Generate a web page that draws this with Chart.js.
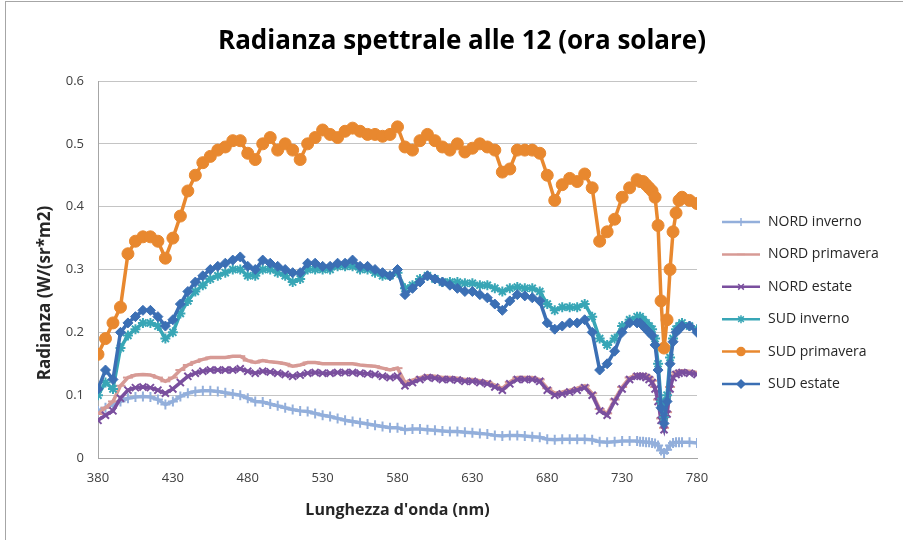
<!DOCTYPE html>
<html>
<head>
<meta charset="utf-8">
<script src="https://cdn.jsdelivr.net/npm/chart.js@4.4.1/dist/chart.umd.min.js"></script>
<style>
  html, body { margin: 0; padding: 0; background: #fff; overflow: hidden; }
  #frame { position: absolute; left: 5px; top: 1px; width: 910px; height: 560px; border: 1px solid #a6a6a6; pointer-events: none; }
  canvas { position: absolute; left: 0; top: 0; }
</style>
</head>
<body>
<canvas id="radiance-chart" width="903" height="540"></canvas>
<div id="frame"></div>
<script>
// wavelengths (nm), denser around the oxygen dip
const wavelengths = [380,385,390,395,400,405,410,415,420,425,
                     430,435,440,445,450,455,460,465,470,475,
                     480,485,490,495,500,505,510,515,520,525,
                     530,535,540,545,550,555,560,565,570,575,
                     580,585,590,595,600,605,610,615,620,625,
                     630,635,640,645,650,655,660,665,670,675,
                     680,685,690,695,700,705,710,715,720,725,
                     730,735,740,742,744,746,748,750,752,754,
                     756,758,760,762,764,766,768,770,775,780];

const xTicks = [380,430,480,530,580,630,680,730,780];

const nordInverno = [0.075,0.08,0.085,0.09,0.095,0.097,0.098,0.097,0.093,0.085,
                     0.09,0.098,0.103,0.106,0.107,0.107,0.106,0.104,0.102,0.10,
                     0.095,0.09,0.089,0.086,0.083,0.08,0.077,0.075,0.074,0.071,
                     0.068,0.066,0.063,0.06,0.058,0.056,0.054,0.052,0.05,0.048,
                     0.048,0.045,0.046,0.046,0.045,0.044,0.043,0.042,0.042,0.041,
                     0.04,0.039,0.038,0.036,0.035,0.036,0.036,0.035,0.034,0.033,
                     0.03,0.029,0.03,0.03,0.03,0.03,0.029,0.026,0.025,0.026,
                     0.027,0.027,0.027,0.026,0.026,0.025,0.025,0.024,0.023,0.02,
                     0.012,0.008,0.013,0.02,0.024,0.025,0.025,0.025,0.025,0.024];

const nordPrimavera = [0.07,0.08,0.09,0.115,0.128,0.132,0.133,0.132,0.128,0.122,
                       0.128,0.14,0.148,0.153,0.157,0.16,0.16,0.16,0.162,0.162,
                       0.155,0.152,0.155,0.153,0.152,0.15,0.146,0.148,0.152,0.152,
                       0.15,0.15,0.15,0.15,0.15,0.148,0.147,0.146,0.143,0.14,
                       0.143,0.12,0.124,0.128,0.131,0.13,0.128,0.128,0.127,0.125,
                       0.125,0.123,0.121,0.116,0.111,0.121,0.128,0.128,0.128,0.125,
                       0.111,0.103,0.105,0.108,0.111,0.115,0.103,0.078,0.071,0.093,
                       0.113,0.128,0.133,0.133,0.133,0.131,0.128,0.123,0.113,0.093,
                       0.063,0.048,0.073,0.113,0.131,0.136,0.138,0.139,0.138,0.136];

const nordEstate = [0.06,0.068,0.075,0.095,0.108,0.112,0.113,0.112,0.108,0.103,
                    0.11,0.12,0.13,0.135,0.138,0.14,0.14,0.14,0.14,0.142,
                    0.138,0.135,0.138,0.137,0.135,0.133,0.13,0.132,0.135,0.136,
                    0.135,0.135,0.136,0.136,0.136,0.135,0.134,0.133,0.13,0.128,
                    0.13,0.115,0.12,0.125,0.128,0.127,0.125,0.125,0.124,0.122,
                    0.122,0.12,0.118,0.113,0.108,0.118,0.125,0.125,0.125,0.122,
                    0.108,0.10,0.102,0.105,0.108,0.112,0.10,0.075,0.068,0.09,
                    0.11,0.125,0.13,0.13,0.13,0.128,0.125,0.12,0.11,0.09,
                    0.06,0.045,0.07,0.11,0.128,0.133,0.135,0.136,0.135,0.133];

const sudInverno = [0.10,0.12,0.11,0.175,0.195,0.205,0.215,0.215,0.21,0.19,
                    0.20,0.23,0.25,0.265,0.275,0.285,0.29,0.295,0.30,0.30,
                    0.29,0.29,0.30,0.30,0.295,0.29,0.28,0.285,0.30,0.30,
                    0.30,0.30,0.305,0.305,0.305,0.30,0.30,0.295,0.29,0.29,
                    0.295,0.27,0.275,0.285,0.29,0.285,0.28,0.28,0.28,0.278,
                    0.278,0.275,0.275,0.27,0.265,0.27,0.272,0.27,0.27,0.265,
                    0.245,0.235,0.24,0.24,0.24,0.245,0.225,0.19,0.18,0.19,
                    0.21,0.22,0.225,0.225,0.22,0.215,0.21,0.205,0.19,0.15,
                    0.09,0.065,0.10,0.16,0.19,0.205,0.21,0.215,0.21,0.205];

const sudPrimavera = [0.165,0.19,0.215,0.24,0.325,0.345,0.352,0.352,0.345,0.318,
                      0.35,0.385,0.425,0.45,0.47,0.48,0.49,0.495,0.505,0.505,
                      0.485,0.475,0.50,0.51,0.49,0.50,0.49,0.475,0.50,0.51,
                      0.522,0.515,0.51,0.52,0.525,0.52,0.515,0.515,0.512,0.515,
                      0.527,0.495,0.49,0.505,0.515,0.505,0.495,0.49,0.50,0.487,
                      0.493,0.50,0.495,0.49,0.455,0.46,0.49,0.49,0.49,0.485,
                      0.45,0.41,0.435,0.445,0.44,0.452,0.43,0.345,0.36,0.38,
                      0.415,0.43,0.443,0.44,0.44,0.435,0.43,0.425,0.415,0.37,
                      0.25,0.175,0.22,0.30,0.36,0.39,0.41,0.415,0.41,0.405];

const sudEstate = [0.11,0.14,0.125,0.20,0.215,0.225,0.235,0.235,0.225,0.21,
                   0.22,0.245,0.265,0.28,0.29,0.30,0.305,0.31,0.315,0.32,
                   0.305,0.30,0.315,0.31,0.305,0.30,0.295,0.295,0.31,0.31,
                   0.305,0.305,0.31,0.31,0.315,0.305,0.305,0.30,0.295,0.29,
                   0.30,0.26,0.27,0.28,0.29,0.285,0.28,0.275,0.27,0.265,
                   0.265,0.26,0.255,0.245,0.235,0.25,0.26,0.258,0.255,0.25,
                   0.215,0.205,0.21,0.215,0.215,0.22,0.20,0.14,0.15,0.17,
                   0.20,0.215,0.215,0.215,0.21,0.205,0.20,0.195,0.18,0.14,
                   0.08,0.055,0.09,0.15,0.185,0.20,0.205,0.21,0.21,0.20];

const seriesNames = ['NORD inverno','NORD primavera','NORD estate','SUD inverno','SUD primavera','SUD estate'];
const seriesValues = [nordInverno, nordPrimavera, nordEstate, sudInverno, sudPrimavera, sudEstate];
const seriesColors = ['#93afdb','#d79a95','#7a4f9e','#38a6b6','#e8882f','#3b6fb4'];
const seriesMarkers = ['cross','line','crossRot','star','circle','rectRot'];

const FONT = "'Open Sans', 'DejaVu Sans', sans-serif";

// title, y-axis title and an excel-like legend (short line with the marker in the middle)
const decorations = {
  id: 'decorations',
  afterDraw(chart) {
    const ctx = chart.ctx;
    const area = chart.chartArea;
    ctx.save();

    ctx.fillStyle = '#000';
    ctx.font = 'bold 26px ' + FONT;
    ctx.textAlign = 'center';
    ctx.textBaseline = 'middle';
    ctx.fillText('Radianza spettrale alle 12 (ora solare)', 462, 42);

    ctx.save();
    ctx.translate(45, 293);
    ctx.rotate(-Math.PI / 2);
    ctx.fillStyle = '#262626';
    ctx.font = 'bold 17px ' + FONT;
    ctx.fillText('Radianza (W/(sr*m2)', 0, 0);
    ctx.restore();

    const x0 = area.right + 25;
    const top = 222;
    const step = 32.4;
    ctx.textAlign = 'left';
    chart.data.datasets.forEach((ds, i) => {
      const y = top + i * step;
      ctx.strokeStyle = ds.borderColor;
      ctx.fillStyle = ds.pointBackgroundColor;
      ctx.lineWidth = 2.5;
      ctx.beginPath();
      ctx.moveTo(x0, y);
      ctx.lineTo(x0 + 38, y);
      ctx.stroke();
      ctx.lineWidth = 1.5;
      Chart.helpers.drawPoint(ctx, { pointStyle: ds.pointStyle, radius: 4, rotation: 0, borderWidth: 1.5 }, x0 + 19, y);
      ctx.fillStyle = '#262626';
      ctx.font = '14px ' + FONT;
      ctx.fillText(ds.label, x0 + 46, y);
    });
    ctx.restore();
  }
};

const datasets = seriesNames.map((name, i) => ({
  label: name,
  data: wavelengths.map((w, j) => ({ x: w, y: seriesValues[i][j] })),
  borderColor: seriesColors[i],
  backgroundColor: seriesColors[i],
  pointBackgroundColor: seriesColors[i],
  pointBorderColor: seriesColors[i],
  pointStyle: seriesMarkers[i],
  pointRadius: seriesMarkers[i] === 'circle' ? 6 : 5,
  pointBorderWidth: seriesMarkers[i] === 'circle' || seriesMarkers[i] === 'rectRot' ? 1 : 2,
  borderWidth: 3.5,
  order: seriesNames.length - i,
  tension: 0
}));

new Chart(document.getElementById('radiance-chart').getContext('2d'), {
  type: 'line',
  data: { datasets },
  plugins: [decorations],
  options: {
    responsive: false,
    animation: false,
    devicePixelRatio: 1,
    layout: { padding: { left: 0, right: 206, top: 81, bottom: 0 } },
    plugins: {
      legend: { display: false },
      tooltip: { enabled: false },
      title: { display: false }
    },
    scales: {
      x: {
        type: 'linear',
        min: 380,
        max: 780,
        afterBuildTicks: scale => { scale.ticks = xTicks.map(v => ({ value: v })); },
        afterFit: scale => { scale.height = 82; },
        grid: { display: false, drawTicks: false },
        border: { display: true, color: '#a6a6a6', width: 1 },
        ticks: { color: '#404040', font: { family: FONT, size: 13 }, padding: 12, maxRotation: 0, autoSkip: false },
        title: {
          display: true,
          text: "Lunghezza d'onda (nm)",
          color: '#262626',
          font: { family: FONT, size: 16, weight: 'bold' },
          padding: { top: 0, bottom: 20 }
        }
      },
      y: {
        min: 0,
        max: 0.6,
        afterFit: scale => { scale.width = 98; },
        grid: { color: '#c4c4c4', lineWidth: 1, drawTicks: false },
        border: { display: true, color: '#a6a6a6', width: 1 },
        ticks: {
          stepSize: 0.1,
          color: '#404040',
          font: { family: FONT, size: 13 },
          padding: 14,
          callback: v => (v === 0 ? '0' : v.toFixed(1))
        },
        title: { display: false }
      }
    }
  }
});
</script>
</body>
</html>
